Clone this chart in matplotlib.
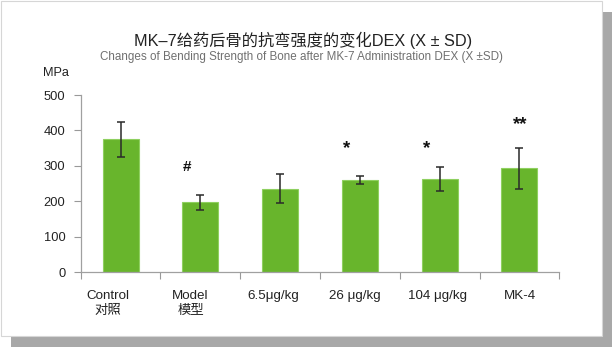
import numpy as np
import matplotlib.pyplot as plt
from matplotlib.patches import Rectangle

# 各组抗弯强度 (MPa), 均值 ± SD
groups = ['Control\n对照', 'Model\n模型', '6.5\u03bcg/kg', '26 \u03bcg/kg', '104 \u03bcg/kg', 'MK-4']
means = [375, 197, 236, 260, 263, 293]
sds = [50, 21, 40, 12, 34, 57]
marks = ['', '#', '', '*', '*', '**']

FONT = ['Liberation Sans', 'Noto Sans CJK SC', 'DejaVu Sans']
plt.rcParams['font.family'] = FONT

W, H = 612, 347
fig = plt.figure(figsize=(W / 100, H / 100), dpi=100)
fig.patch.set_facecolor('white')

# 卡片和阴影
fig.patches.append(Rectangle((11 / W, 0), 1 - 11 / W, 1 - 12 / H, transform=fig.transFigure,
                             facecolor='#a8a8a8', edgecolor='none', zorder=-2))
fig.patches.append(Rectangle((0.5 / W, 11 / H), 601.5 / W, 335.5 / H, transform=fig.transFigure,
                             facecolor='white', edgecolor='#d6d6d6', linewidth=0.8, zorder=-1))

ax = fig.add_axes([80.7 / W, 1 - 272.3 / H, (559.3 - 80.7) / W, (272.3 - 95) / H])
ax.patch.set_alpha(0)

x = np.arange(len(groups))
ax.bar(x, means, width=0.45, color='#68b52c', edgecolor='#8fd060', linewidth=0.8, zorder=2)
ax.errorbar(x, means, yerr=sds, fmt='none', ecolor='#2a2a2a', elinewidth=1.1,
            capsize=3, capthick=1.1, zorder=3)

# 显著性标记
mark_x = [0, -0.173, 0, -0.163, -0.164, 0.006]
mark_y = [0, 297, 0, 349, 349, 417]
for i, m in enumerate(marks):
    if m:
        ax.text(i + mark_x[i], mark_y[i], m, ha='center', va='center',
                fontsize=11 if m == '#' else 13.5, fontweight='bold', color='#111', zorder=4)

ax.set_xlim(-0.5, 5.5)
ax.set_ylim(0, 500)
ax.set_yticks([0, 100, 200, 300, 400, 500])
ax.tick_params(axis='y', length=5, width=0.8, color='#999999', pad=6,
               labelsize=9.3, labelcolor='#222222')

# 分组刻度线在类别边界, 标签单独放
ax.set_xticks(np.arange(-0.5, 6, 1), minor=True)
label_pos = [-0.155, 0.877, 1.908, 2.94, 3.972, 5.003]
ax.set_xticks(label_pos)
ax.set_xticklabels(groups, linespacing=1.4)
ax.tick_params(axis='x', which='major', length=0, pad=12.5, labelsize=9.6, labelcolor='#222222')
ax.tick_params(axis='x', which='minor', length=5, width=0.8, color='#999999', direction='out')

for s in ['top', 'right']:
    ax.spines[s].set_visible(False)
for s in ['left', 'bottom']:
    ax.spines[s].set_color('#a0a0a0')
    ax.spines[s].set_linewidth(0.9)

fig.text(55.5 / W, 1 - 72.7 / H, 'MPa', ha='center', va='center', fontsize=9.2, color='#222222')
fig.text(303 / W, 1 - 40 / H, 'MK\u20137给药后骨的抗弯强度的变化DEX (X \u00b1 SD)',
         ha='center', va='center', fontsize=11.7, color='#222222')
fig.text(301 / W, 1 - 56.7 / H, 'Changes of Bending Strength of Bone after MK-7 Administration DEX (X \u00b1SD)',
         ha='center', va='center', fontsize=8.4, color='#707070')

fig.savefig('out.png', dpi=100)
